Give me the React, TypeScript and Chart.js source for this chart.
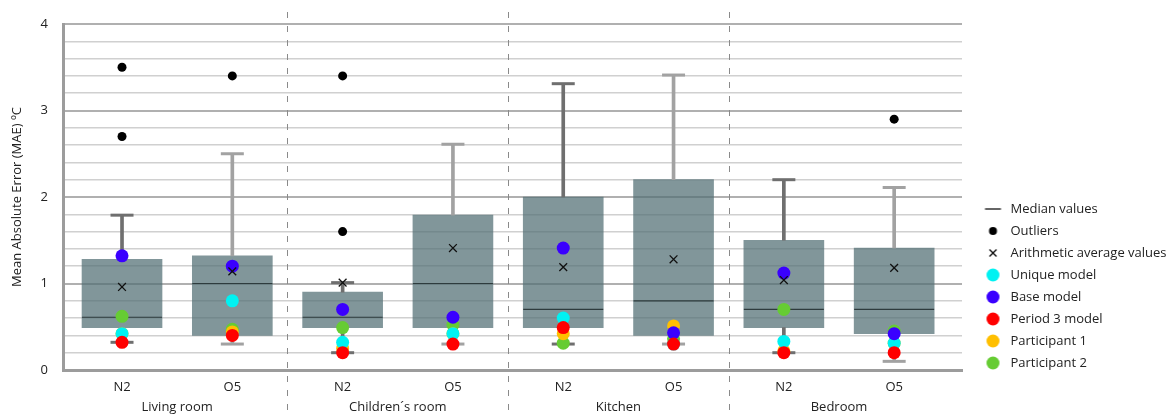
import React, { useEffect, useRef } from 'react';
import { Chart, registerables } from 'chart.js';

Chart.register(...registerables);

// ---------- data ----------
const boxLabels = ['N2', 'O5', 'N2', 'O5', 'N2', 'O5', 'N2', 'O5'];
const groupLabels = ['Living room', 'Children´s room', 'Kitchen', 'Bedroom'];
const groupCenters = [1, 3, 5, 7];
const groupDividers = [2, 4, 6];
const yTickValues = [0, 1, 2, 3, 4];
const yGridStep = 0.2;

const whiskerMin = [0.32, 0.30, 0.20, 0.30, 0.30, 0.30, 0.20, 0.10];
const quartile1 = [0.49, 0.40, 0.49, 0.49, 0.49, 0.40, 0.49, 0.42];
const medianValues = [0.61, 1.00, 0.61, 1.00, 0.70, 0.80, 0.70, 0.70];
const quartile3 = [1.28, 1.32, 0.90, 1.79, 2.00, 2.20, 1.50, 1.41];
const whiskerMax = [1.79, 2.50, 1.01, 2.61, 3.31, 3.41, 2.20, 2.11];
const meanValues = [0.96, 1.14, 1.01, 1.41, 1.19, 1.28, 1.04, 1.18];
const outlierValues = [[3.5, 2.7], [3.4], [3.4, 1.6], [], [], [], [], [2.9]];

const uniqueModel = [0.42, 0.80, 0.32, 0.42, 0.60, 0.30, 0.33, 0.31];
const baseModel = [1.32, 1.20, 0.70, 0.61, 1.41, 0.43, 1.12, 0.42];
const period3Model = [0.32, 0.40, 0.20, 0.30, 0.49, 0.30, 0.20, 0.20];
const participant1 = [0.42, 0.44, 0.25, 0.42, 0.42, 0.51, 0.22, 0.31];
const participant2 = [0.62, 0.47, 0.49, 0.52, 0.31, 0.36, 0.70, 0.45];

// ---------- styles ----------
const FONT = "'Open Sans', 'DejaVu Sans', sans-serif";
const TEXT = '#222222';
const FS = 13;
const X_MIN = -0.035;
const X_MAX = 8.115;

const models = [
  { label: 'Unique model', values: uniqueModel, color: '#00f2f2', order: 13 },
  { label: 'Base model', values: baseModel, color: '#3a00ff', order: 12 },
  { label: 'Period 3 model', values: period3Model, color: '#ff0000', order: 11 },
  { label: 'Participant 1', values: participant1, color: '#ffbf00', order: 14 },
  { label: 'Participant 2', values: participant2, color: '#66cc33', order: 15 },
];

const pos = (i: number) => i + 0.5;
const whiskerColor = (i: number) => (i % 2 === 0 ? '#6f6f6f' : '#a2a2a2');
const isMajor = (v: number) => Math.abs(v - Math.round(v)) < 1e-6;

function marker(draw: (ctx: CanvasRenderingContext2D, cx: number, cy: number) => void) {
  const c = document.createElement('canvas');
  c.width = 40;
  c.height = 16;
  const ctx = c.getContext('2d') as CanvasRenderingContext2D;
  draw(ctx, 25.5, 8);
  return c;
}

const dividerPlugin = {
  id: 'groupDividers',
  afterDraw(chart: any) {
    const xs = chart.scales.x;
    const ctx = chart.ctx;
    ctx.save();
    ctx.strokeStyle = '#8a8a8a';
    ctx.lineWidth = 1;
    ctx.setLineDash([6, 8]);
    groupDividers.forEach((v) => {
      const px = Math.round(xs.getPixelForValue(v)) + 0.5;
      ctx.beginPath();
      ctx.moveTo(px, 12);
      ctx.lineTo(px, chart.height);
      ctx.stroke();
    });
    ctx.restore();
  },
};

export default function App() {
  const ref = useRef<HTMLCanvasElement | null>(null);

  useEffect(() => {
    if (!ref.current) return;

    const legendMarkers = [
      marker((ctx, cx, cy) => {
        ctx.strokeStyle = '#333';
        ctx.lineWidth = 1.5;
        ctx.beginPath();
        ctx.moveTo(cx - 8, cy);
        ctx.lineTo(cx + 8, cy);
        ctx.stroke();
      }),
      marker((ctx, cx, cy) => {
        ctx.fillStyle = '#000';
        ctx.beginPath();
        ctx.arc(cx, cy, 4, 0, Math.PI * 2);
        ctx.fill();
      }),
      marker((ctx, cx, cy) => {
        ctx.strokeStyle = '#000';
        ctx.lineWidth = 1.2;
        ctx.beginPath();
        ctx.moveTo(cx - 3.5, cy - 3.5);
        ctx.lineTo(cx + 3.5, cy + 3.5);
        ctx.moveTo(cx + 3.5, cy - 3.5);
        ctx.lineTo(cx - 3.5, cy + 3.5);
        ctx.stroke();
      }),
      ...models.map((m) =>
        marker((ctx, cx, cy) => {
          ctx.fillStyle = m.color;
          ctx.beginPath();
          ctx.arc(cx, cy, 6.5, 0, Math.PI * 2);
          ctx.fill();
        })
      ),
    ];
    const legendTexts = ['Median values', 'Outliers', 'Arithmetic average values', ...models.map((m) => m.label)];

    const outlierPoints: { x: number; y: number }[] = [];
    outlierValues.forEach((arr, i) => arr.forEach((v) => outlierPoints.push({ x: pos(i), y: v })));

    const yGrid: number[] = [];
    for (let k = 0; k <= Math.round(4 / yGridStep); k++) yGrid.push(Math.round(k * yGridStep * 1000) / 1000);

    const datasets: any[] = [
      {
        type: 'scatter',
        label: 'Median values',
        data: medianValues.map((v, i) => ({ x: pos(i), y: v })),
        pointStyle: 'line',
        pointRadius: 40,
        borderColor: '#2e3b3d',
        borderWidth: 1.2,
        order: 17,
      },
      {
        type: 'scatter',
        label: 'Outliers',
        data: outlierPoints,
        pointStyle: 'circle',
        pointRadius: 4.5,
        backgroundColor: '#000',
        borderWidth: 0,
        order: 10,
      },
      {
        type: 'scatter',
        label: 'Arithmetic average values',
        data: meanValues.map((v, i) => ({ x: pos(i), y: v })),
        pointStyle: 'crossRot',
        pointRadius: 5.5,
        borderColor: '#111',
        borderWidth: 1.3,
        order: 5,
      },
      ...models.map((m) => ({
        type: 'scatter',
        label: m.label,
        data: m.values.map((v, i) => ({ x: pos(i), y: v })),
        pointStyle: 'circle',
        pointRadius: 6.5,
        backgroundColor: m.color,
        borderWidth: 0,
        order: m.order,
      })),
      {
        type: 'scatter',
        label: 'caps',
        data: [
          ...whiskerMax.map((v, i) => ({ x: pos(i), y: v })),
          ...whiskerMin.map((v, i) => ({ x: pos(i), y: v })),
        ],
        pointStyle: 'line',
        pointRadius: 11.5,
        borderWidth: 3,
        borderColor: [...whiskerMax.map((_, i) => whiskerColor(i)), ...whiskerMin.map((_, i) => whiskerColor(i))],
        order: 18,
      },
      {
        type: 'bar',
        label: 'stems',
        data: [
          ...whiskerMax.map((v, i) => ({ x: pos(i), y: [quartile3[i], v] })),
          ...whiskerMin.map((v, i) => ({ x: pos(i), y: [v, quartile1[i]] })),
        ],
        backgroundColor: [...whiskerMax.map((_, i) => whiskerColor(i)), ...whiskerMin.map((_, i) => whiskerColor(i))],
        barThickness: 3,
        grouped: false,
        order: 19,
      },
      {
        type: 'bar',
        label: 'boxes',
        data: quartile1.map((v, i) => ({ x: pos(i), y: [v, quartile3[i]] })),
        backgroundColor: 'rgba(80,110,115,0.72)',
        borderWidth: 0,
        barThickness: 80,
        grouped: false,
        order: 20,
      },
    ];

    const chart = new Chart(ref.current, {
      type: 'bar',
      data: { datasets },
      plugins: [dividerPlugin],
      options: {
        animation: false,
        responsive: false,
        events: [],
        layout: { autoPadding: false, padding: { top: 24, left: 4, right: 0, bottom: 1 } },
        font: { family: FONT },
        plugins: {
          tooltip: { enabled: false },
          legend: {
            position: 'right',
            align: 'start',
            maxWidth: 210,
            title: { display: true, text: '', font: { size: 1, lineHeight: 1 }, padding: { top: 168.5, bottom: 0 } },
            labels: {
              usePointStyle: true,
              pointStyleWidth: 33,
              padding: 9,
              color: TEXT,
              font: { family: FONT, size: FS },
              generateLabels: () =>
                legendTexts.map((t, i) => ({
                  text: t,
                  pointStyle: legendMarkers[i],
                  datasetIndex: i,
                  fontColor: TEXT,
                  hidden: false,
                  lineWidth: 0,
                  strokeStyle: 'transparent',
                  fillStyle: 'transparent',
                })),
            },
          },
        },
        scales: {
          x: {
            type: 'linear',
            position: 'bottom',
            min: X_MIN,
            max: X_MAX,
            offset: false,
            weight: 0,
            grid: { display: false, drawTicks: false, tickLength: 0 },
            border: { display: true, color: '#9c9c9c', width: 3 },
            afterBuildTicks: (axis: any) => {
              axis.ticks = boxLabels.map((_, i) => ({ value: pos(i) }));
            },
            afterFit: (axis: any) => {
              axis.height = 24.5;
            },
            ticks: {
              autoSkip: false,
              maxRotation: 0,
              minRotation: 0,
              padding: 9,
              color: TEXT,
              font: { family: FONT, size: FS },
              callback: (_v: any, index: number) => boxLabels[index],
            },
          },
          x2: {
            type: 'linear',
            position: 'bottom',
            min: X_MIN,
            max: X_MAX,
            offset: false,
            weight: 1,
            grid: { display: false, drawTicks: false, tickLength: 0 },
            border: { display: false },
            afterBuildTicks: (axis: any) => {
              axis.ticks = groupCenters.map((v) => ({ value: v }));
            },
            afterFit: (axis: any) => {
              axis.height = 20.5;
            },
            ticks: {
              autoSkip: false,
              maxRotation: 0,
              minRotation: 0,
              padding: 5,
              color: TEXT,
              font: { family: FONT, size: FS },
              callback: (_v: any, index: number) => groupLabels[index],
            },
          },
          y: {
            type: 'linear',
            min: 0,
            max: 4,
            grid: {
              drawTicks: false,
              tickLength: 0,
              color: (ctx: any) => (ctx.tick && isMajor(ctx.tick.value) ? '#b0b0b0' : '#d0d0d0'),
              lineWidth: (ctx: any) => (ctx.tick && isMajor(ctx.tick.value) ? 2 : 1.6),
            },
            border: { display: true, color: '#9c9c9c', width: 3 },
            afterBuildTicks: (axis: any) => {
              axis.ticks = yGrid.map((v) => ({ value: v }));
            },
            afterFit: (axis: any) => {
              axis.width = 59;
            },
            ticks: {
              autoSkip: false,
              padding: 15,
              color: TEXT,
              font: { family: FONT, size: FS },
              callback: (v: any) => {
                const n = Number(v);
                return isMajor(n) && yTickValues.includes(Math.round(n)) ? String(Math.round(n)) : '';
              },
            },
            title: {
              display: true,
              text: 'Mean Absolute Error (MAE) ºC',
              color: TEXT,
              font: { family: FONT, size: FS },
              padding: { top: 5, bottom: 16 },
            },
          },
        },
      } as any,
    });

    return () => chart.destroy();
  }, []);

  return (
    <div style={{ position: 'absolute', left: 0, top: 0, width: 1172, height: 416, background: '#fff' }}>
      <canvas ref={ref} width={1172} height={416} style={{ display: 'block' }} />
    </div>
  );
}
